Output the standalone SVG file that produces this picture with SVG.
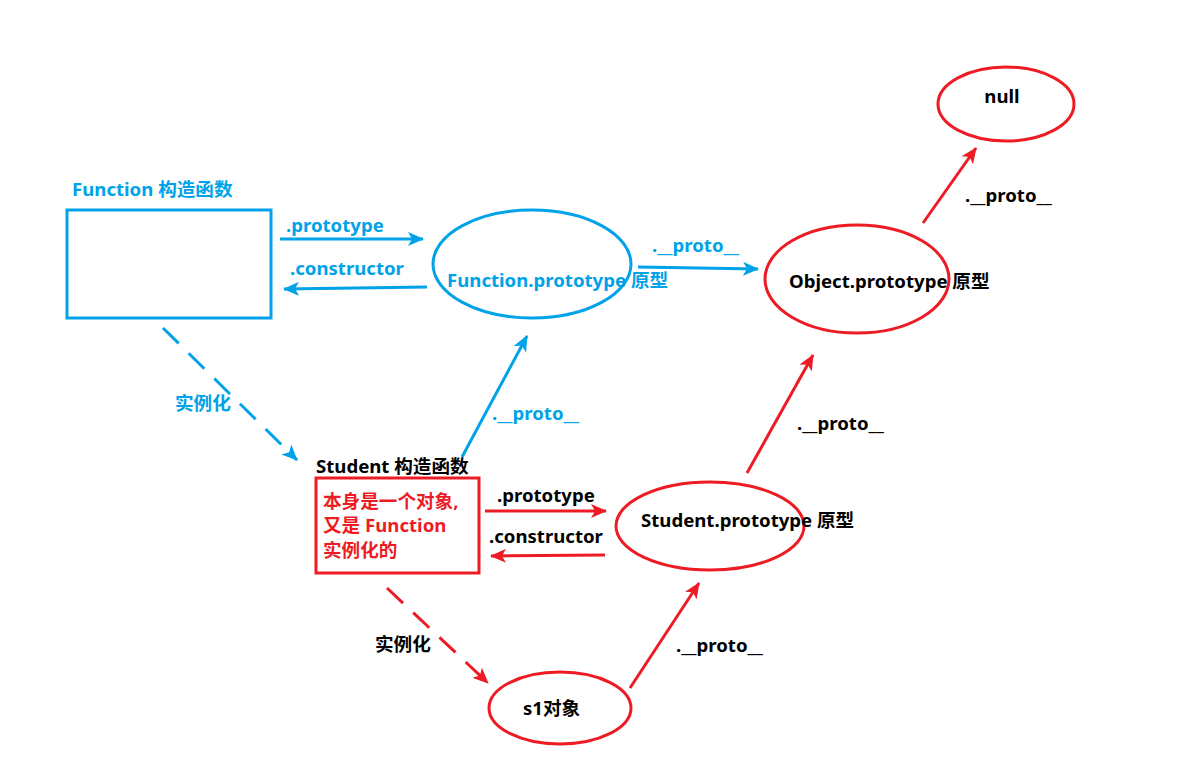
<svg xmlns="http://www.w3.org/2000/svg" width="1204" height="766" viewBox="0 0 1204 766">
<style>
text{font-family:"Noto Sans","Noto Sans CJK SC",sans-serif;font-weight:bold;font-size:18.6px}
.b{fill:#00a2e8}.r{fill:#ed1c24}.k{fill:#000}
.sb{fill:none;stroke:#00a2e8;stroke-width:3}
.sr{fill:none;stroke:#ed1c24;stroke-width:3}
.db{stroke-dasharray:22 14}
.dr{stroke-dasharray:22 14}
</style>
<defs>
<marker id="ab" viewBox="0 0 16 14" refX="15" refY="7" markerWidth="16" markerHeight="14" markerUnits="userSpaceOnUse" orient="auto">
<path d="M0,0 L16,7 L0,14 L4,7 z" fill="#00a2e8"/>
</marker>
<marker id="ar" viewBox="0 0 16 14" refX="15" refY="7" markerWidth="16" markerHeight="14" markerUnits="userSpaceOnUse" orient="auto">
<path d="M0,0 L16,7 L0,14 L4,7 z" fill="#ed1c24"/>
</marker>
</defs>
<rect width="1204" height="766" fill="#fff"/>
<g id="connectors">
<line class="sb" x1="280" y1="239" x2="423" y2="239" marker-end="url(#ab)"/>
<text class="b" x="286" y="232">.prototype</text>
<line class="sb" x1="427" y1="287" x2="284" y2="289" marker-end="url(#ab)"/>
<text class="b" x="290" y="275">.constructor</text>
<line class="sb" x1="638" y1="267" x2="758" y2="269" marker-end="url(#ab)"/>
<text class="b" x="652" y="252">.__proto__</text>
<line class="sr" x1="923" y1="223" x2="976" y2="148" marker-end="url(#ar)"/>
<text class="k" x="965" y="202">.__proto__</text>
<line class="sb db" x1="163" y1="328" x2="297" y2="460" marker-end="url(#ab)"/>
<text class="b" x="175" y="410">实例化</text>
<line class="sb" x1="462" y1="457" x2="527" y2="336" marker-end="url(#ab)"/>
<text class="b" x="492" y="420">.__proto__</text>
<line class="sr" x1="485" y1="511" x2="606" y2="511" marker-end="url(#ar)"/>
<text class="k" x="497" y="502">.prototype</text>
<line class="sr" x1="605" y1="555" x2="491" y2="556" marker-end="url(#ar)"/>
<text class="k" x="489" y="543">.constructor</text>
<line class="sr" x1="747" y1="473" x2="813" y2="355" marker-end="url(#ar)"/>
<text class="k" x="797" y="430">.__proto__</text>
<line class="sr dr" x1="387" y1="588" x2="488" y2="683" marker-end="url(#ar)"/>
<text class="k" x="375" y="651">实例化</text>
<line class="sr" x1="630" y1="688" x2="699" y2="583" marker-end="url(#ar)"/>
<text class="k" x="676" y="652">.__proto__</text>
</g>
<g id="function-ctor">
<text class="b" x="72" y="196">Function 构造函数</text>
<rect class="sb" x="67" y="210" width="204" height="108"/>
</g>
<g id="function-prototype">
<ellipse class="sb" cx="532" cy="264" rx="99" ry="54"/>
<text class="b" x="447" y="287">Function.prototype 原型</text>
</g>
<g id="object-prototype">
<ellipse class="sr" cx="857" cy="279" rx="92" ry="54"/>
<text class="k" x="789" y="288">Object.prototype 原型</text>
</g>
<g id="null">
<ellipse class="sr" cx="1006" cy="104" rx="68" ry="37"/>
<text class="k" x="1002" y="103" text-anchor="middle">null</text>
</g>
<g id="student-ctor">
<text class="k" x="316" y="473">Student 构造函数</text>
<rect class="sr" x="316" y="478" width="163" height="95"/>
<text class="r" x="323" y="508">本身是一个对象,</text>
<text class="r" x="323" y="532">又是 Function</text>
<text class="r" x="323" y="557">实例化的</text>
</g>
<g id="student-prototype">
<ellipse class="sr" cx="710" cy="526" rx="94" ry="44"/>
<text class="k" x="641" y="527">Student.prototype 原型</text>
</g>
<g id="s1">
<ellipse class="sr" cx="560" cy="708" rx="71" ry="36"/>
<text class="k" x="523" y="715">s1对象</text>
</g>
</svg>
